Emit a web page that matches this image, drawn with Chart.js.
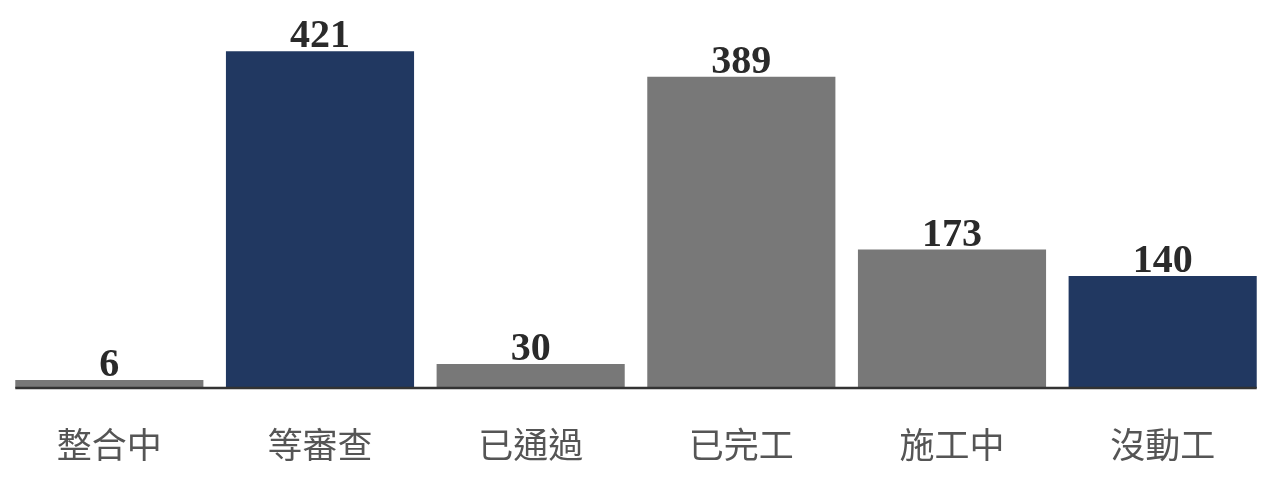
<!DOCTYPE html>
<html>
<head>
<meta charset="utf-8">
<script src="https://cdn.jsdelivr.net/npm/chart.js@4"></script>
<style>
html,body{margin:0;padding:0;background:#fff;}
#wrap{width:1269px;height:498px;position:relative;}
</style>
</head>
<body>
<div id="wrap"><canvas id="c"></canvas></div>
<script>
const categories = ['整合中','等審查','已通過','已完工','施工中','沒動工'];
const counts = [6, 421, 30, 389, 173, 140];
const barColors = ['#787878','#213861','#787878','#787878','#787878','#213861'];

const valueLabels = {
  id: 'valueLabels',
  afterDatasetsDraw(chart) {
    const ctx = chart.ctx;
    const meta = chart.getDatasetMeta(0);
    ctx.save();
    ctx.font = 'bold 40px "Liberation Serif", "DejaVu Serif", serif';
    ctx.fillStyle = '#2a2a2a';
    ctx.textAlign = 'center';
    ctx.textBaseline = 'alphabetic';
    meta.data.forEach((bar, i) => {
      ctx.fillText(String(counts[i]), bar.x, bar.y - 4);
    });
    ctx.restore();
  }
};

const baseLine = {
  id: 'baseLine',
  afterDatasetsDraw(chart) {
    const ctx = chart.ctx;
    const meta = chart.getDatasetMeta(0);
    const first = meta.data[0], last = meta.data[meta.data.length - 1];
    const y = chart.scales.y.getPixelForValue(0);
    ctx.save();
    ctx.strokeStyle = '#333333';
    ctx.lineWidth = 2.5;
    ctx.beginPath();
    ctx.moveTo(first.x - first.width / 2, y);
    ctx.lineTo(last.x + last.width / 2, y);
    ctx.stroke();
    ctx.restore();
  }
};

new Chart(document.getElementById('c'), {
  type: 'bar',
  data: {
    labels: categories,
    datasets: [{
      data: counts,
      backgroundColor: barColors,
      borderWidth: 0,
      barPercentage: 0.893,
      categoryPercentage: 1.0,
      minBarLength: 8
    }]
  },
  options: {
    responsive: true,
    maintainAspectRatio: false,
    devicePixelRatio: 1,
    animation: false,
    layout: { padding: { left: 4, right: 1, top: 0, bottom: 0 } },
    plugins: { legend: { display: false }, tooltip: { enabled: false } },
    scales: {
      x: {
        grid: { display: false, drawTicks: false },
        border: { display: false },
        ticks: {
          color: '#555555',
          font: { family: '"Noto Sans CJK TC", "Noto Sans CJK SC", sans-serif', size: 35 },
          padding: 36,
          maxRotation: 0
        },
        afterFit(scale) { scale.height = 110; }
      },
      y: {
        display: false,
        min: 0,
        max: 485
      }
    }
  },
  plugins: [valueLabels, baseLine]
});
</script>
</body>
</html>
